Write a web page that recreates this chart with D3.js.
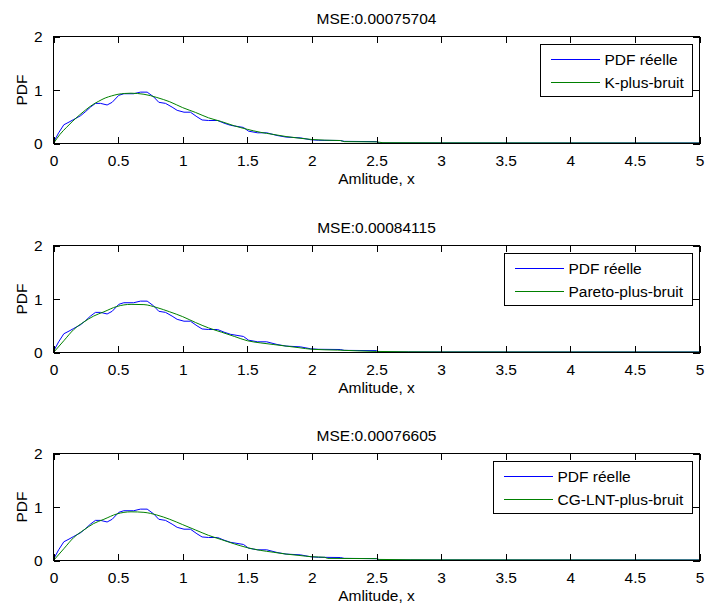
<!DOCTYPE html>
<html><head><meta charset="utf-8">
<script src="https://cdn.jsdelivr.net/npm/d3@7/dist/d3.min.js"></script>
<style>body{margin:0;background:#fff}svg{display:block}text{font-family:"Liberation Sans",Arial,sans-serif;fill:#000}</style>
</head><body><svg id="c" width="706" height="610"></svg>
<script>
// ---- data ----
const titles = ["MSE:0.00075704", "MSE:0.00084115", "MSE:0.00076605"];
const fitNames = ["K-plus-bruit", "Pareto-plus-bruit", "CG-LNT-plus-bruit"];
const realName = "PDF réelle";
const xTicks = [0, 0.5, 1, 1.5, 2, 2.5, 3, 3.5, 4, 4.5, 5];
const yTicks = [0, 1, 2];
const xLabel = "Amlitude, x";
const yLabel = "PDF";

const xReal = [0,0.04,0.08,0.12,0.157,0.21,0.25,0.286,0.325,0.364,0.415,0.454,0.505,0.544,0.62,0.673,0.725,0.776,0.815,0.867,0.918,0.957,1.01,1.06,1.11,1.15,1.2,1.27,1.32,1.37,1.42,1.47,1.51,1.58,1.65,1.73,1.8,1.91,1.99,2.05,2.22,2.25,2.5,2.52,5];
const yReal = [0.02,0.2,0.35,0.4,0.45,0.52,0.6,0.68,0.75,0.75,0.72,0.77,0.9,0.93,0.93,0.96,0.96,0.87,0.77,0.75,0.68,0.62,0.585,0.585,0.5,0.44,0.43,0.43,0.38,0.34,0.32,0.3,0.23,0.2,0.2,0.15,0.12,0.106,0.07,0.06,0.056,0.04,0.035,0.01,0.01];

const xK = [0,0.05,0.1,0.15,0.2,0.25,0.3,0.35,0.4,0.45,0.5,0.55,0.6,0.65,0.7,0.75,0.8,0.9,1.0,1.1,1.2,1.3,1.4,1.5,1.6,1.7,1.8,1.9,2.0,2.1,2.22,2.25,2.5,2.55,3,4,5];
const yK = [0,0.17,0.3,0.42,0.53,0.63,0.72,0.79,0.85,0.89,0.92,0.935,0.94,0.935,0.92,0.895,0.86,0.78,0.67,0.58,0.48,0.41,0.33,0.265,0.21,0.17,0.13,0.1,0.075,0.062,0.056,0.035,0.03,0.015,0.012,0.01,0.008];

const xPareto = [0,0.08,0.157,0.235,0.31,0.39,0.49,0.6,0.7,0.8,0.9,1.0,1.1,1.2,1.3,1.4,1.5,1.6,1.7,1.8,1.9,2.0,2.2,2.5,3,4,5];
const yPareto = [0,0.22,0.43,0.57,0.68,0.76,0.86,0.9,0.895,0.84,0.76,0.67,0.56,0.46,0.38,0.3,0.22,0.18,0.15,0.12,0.09,0.06,0.045,0.02,0.01,0.009,0.008];

const xCG = [0,0.08,0.157,0.235,0.31,0.39,0.49,0.6,0.7,0.8,0.9,1.0,1.1,1.2,1.3,1.4,1.5,1.6,1.7,1.8,1.9,2.0,2.1,2.12,2.5,2.52,3,4,5];
const yCG = [0,0.22,0.43,0.57,0.69,0.77,0.87,0.91,0.9,0.85,0.77,0.67,0.57,0.47,0.39,0.31,0.24,0.19,0.155,0.12,0.095,0.07,0.06,0.04,0.035,0.02,0.012,0.01,0.008];

const fits = [[xK,yK],[xPareto,yPareto],[xCG,yCG]];

// ---- layout ----
const svg = d3.select("#c");
const L = 53.5, R = 699.5, H = 107;
const tops = [36.5, 245.5, 453.5];
const FS = "15.5px";
const blue = "#0000ff", green = "#008000";

tops.forEach((top, i) => {
  const x = d3.scaleLinear().domain([0,5]).range([L,R]);
  const y = d3.scaleLinear().domain([0,2]).range([top+H, top]);
  const g = svg.append("g");
  const clipId = "clip"+i;
  g.append("clipPath").attr("id", clipId).append("rect").attr("x",L).attr("y",top-1).attr("width",R-L).attr("height",H+1);

  const line = d3.line().x(d=>x(d[0])).y(d=>y(d[1]));
  const real = xReal.map((v,k)=>[v,yReal[k]]);
  const fit = fits[i][0].map((v,k)=>[v,fits[i][1][k]]);
  const pg = g.append("g").attr("clip-path","url(#"+clipId+")");
  pg.append("path").attr("d", line(real)).attr("fill","none").attr("stroke",blue).attr("stroke-width",1);
  pg.append("path").attr("d", line.curve(d3.curveMonotoneX)(fit)).attr("fill","none").attr("stroke",green).attr("stroke-width",1);

  // axes with inward ticks
  const tl = 6.5;
  const axB = d3.axisBottom(x).tickValues(xTicks).tickSize(-tl).tickPadding(tl+5).tickFormat(d3.format("~g"));
  const axT = d3.axisTop(x).tickValues(xTicks).tickSize(-tl).tickFormat("");
  const axLft = d3.axisLeft(y).tickValues(yTicks).tickSize(-tl).tickPadding(tl+4.5).tickFormat(d3.format("d"));
  const axRt = d3.axisRight(y).tickValues(yTicks).tickSize(-tl).tickFormat("");
  const gb = g.append("g").attr("transform",`translate(0,${top+H})`).call(axB);
  const gt = g.append("g").attr("transform",`translate(0,${top})`).call(axT);
  const gl = g.append("g").attr("transform",`translate(${L},0)`).call(axLft);
  const gr = g.append("g").attr("transform",`translate(${R},0)`).call(axRt);
  [gb,gt,gl,gr].forEach(a=>{
    a.selectAll(".domain").remove();
    a.selectAll(".tick line").attr("stroke","#000").attr("shape-rendering","crispEdges");
    a.selectAll("text").style("font-size",FS).attr("fill","#000");
  });
  gl.selectAll("text").attr("dy","0.35em");
  gb.selectAll("text").attr("dy","0.71em");
  g.append("rect").attr("x",L).attr("y",top).attr("width",R-L).attr("height",H)
    .attr("fill","none").attr("stroke","#000").attr("stroke-width",1).attr("shape-rendering","crispEdges");

  // title & labels
  g.append("text").attr("x",(L+R)/2).attr("y",top-12.7).attr("text-anchor","middle").style("font-size",FS).text(titles[i]);
  g.append("text").attr("x",(L+R)/2).attr("y",top+H+40).attr("text-anchor","middle").style("font-size",FS).text(xLabel);
  g.append("text").attr("transform",`translate(27,${top+H/2}) rotate(-90)`).attr("text-anchor","middle").style("font-size",FS).text(yLabel);

  // legend
  const lg = g.append("g");
  const t1 = lg.append("text").style("font-size",FS).text(realName);
  const t2 = lg.append("text").style("font-size",FS).text(fitNames[i]);
  const tw = Math.max(t1.node().getComputedTextLength(), t2.node().getComputedTextLength());
  const lw = Math.round(64 + tw + 9), lh = 52;
  const lx = R - 7 - lw, ly = top + 8;
  lg.insert("rect","text").attr("x",lx).attr("y",ly).attr("width",lw).attr("height",lh)
    .attr("fill","#fff").attr("stroke","#000").attr("stroke-width",1).attr("shape-rendering","crispEdges");
  [[t1,blue,15],[t2,green,38]].forEach(([t,c,dy])=>{
    lg.append("line").attr("x1",lx+10).attr("x2",lx+59).attr("y1",ly+dy).attr("y2",ly+dy)
      .attr("stroke",c).attr("stroke-width",1).attr("shape-rendering","crispEdges");
    t.attr("x",lx+64).attr("y",ly+dy+5.5);
  });
});
</script></body></html>
